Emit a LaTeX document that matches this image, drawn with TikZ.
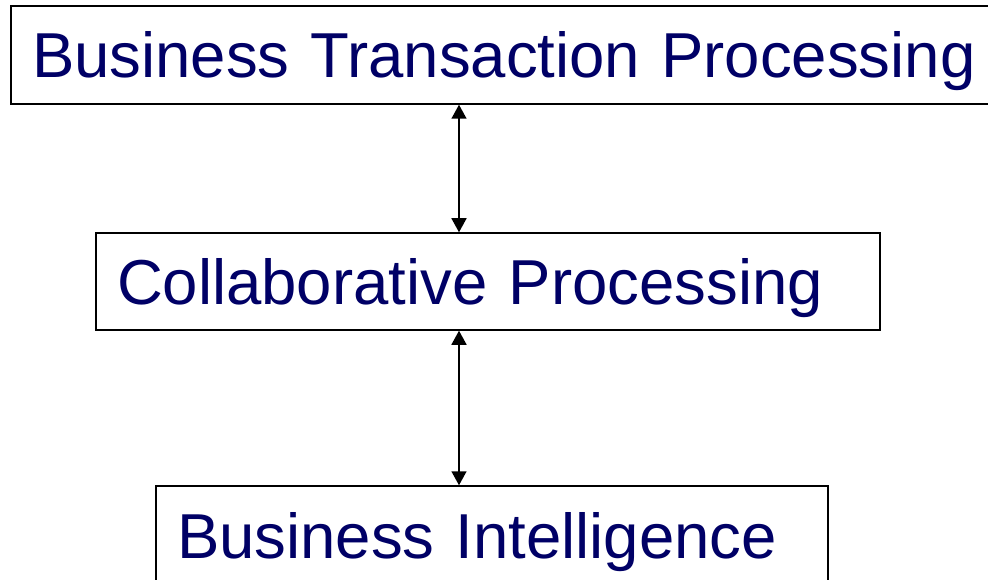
\documentclass[tikz,border=0pt]{standalone}
\usepackage{fontspec}
\setmainfont{Liberation Sans}
\usepackage{tikz}
\usetikzlibrary{arrows.meta}
\definecolor{navy}{RGB}{0,0,102}

\begin{document}
\begin{tikzpicture}[x=1pt, y=-1pt]
      \tikzstyle{layer}=[rectangle, draw=black, line width=1.5pt, text=navy,
        font=\fontsize{63.5}{64}\selectfont, align=left, inner xsep=21pt,
        inner ysep=0pt, text height=46pt, text depth=0pt, minimum height=98pt]
      \tikzstyle{link}=[line width=1.5pt, {Triangle[width=15pt,length=14pt]}-{Triangle[width=15pt,length=14pt]}]
      \clip (0,0) rectangle (988,580);
      \useasboundingbox (0,0) rectangle (988,580);
      \node[layer, text width=952pt] at (508,55) (bt) {Business Transaction Processing};
      \node[layer, text width=742pt, minimum height=97pt] at (488,281.5) (cp) {Collaborative Processing};
      \node[layer, text width=630pt] at (492,535) (bi) {Business Intelligence};
      \coordinate (axis) at (459,0);
      \draw[link] (bt.south -| axis) -- (cp.north -| axis);
      \draw[link] (cp.south -| axis) -- (bi.north -| axis);
\end{tikzpicture}
\end{document}
